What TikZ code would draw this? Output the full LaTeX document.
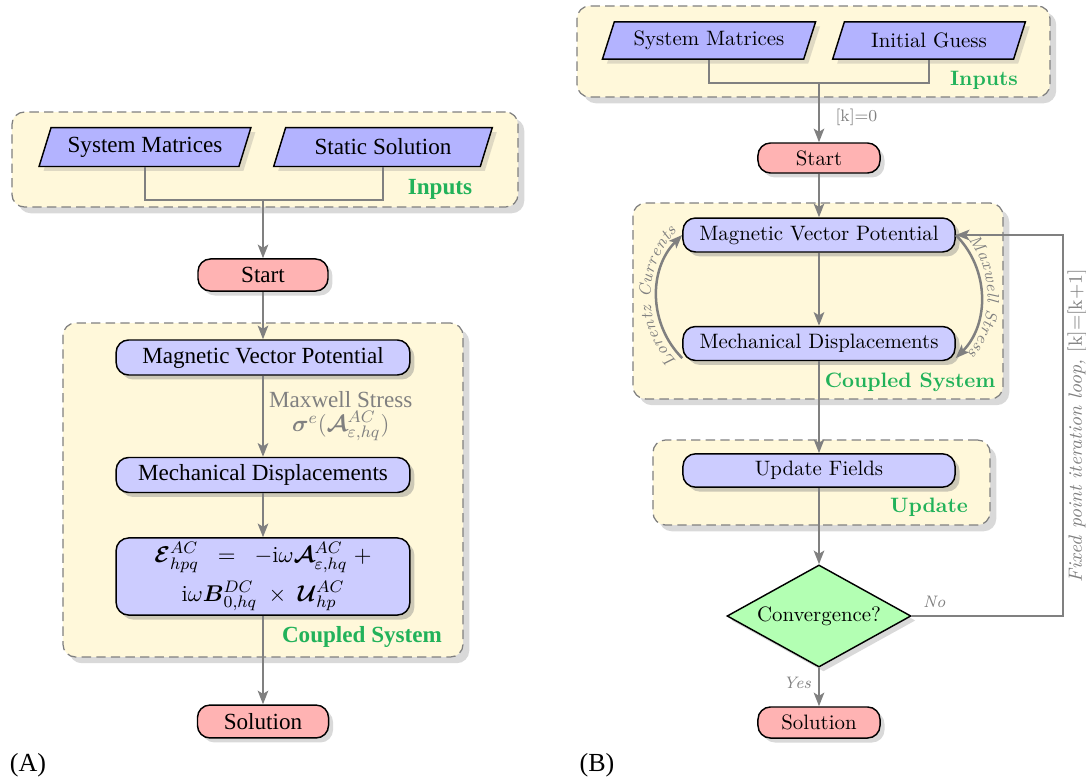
\documentclass[tikz,border=0pt]{standalone}
\usepackage{amsmath}
\usepackage{fontspec}
\newfontfamily\timesfont{Liberation Serif}
\usetikzlibrary{shapes.geometric,shadows,arrows.meta,decorations.text}
\definecolor{contfill}{RGB}{255,248,218}
\definecolor{procfill}{RGB}{204,204,255}
\definecolor{inpfill}{RGB}{179,179,255}
\definecolor{termfill}{RGB}{255,179,179}
\definecolor{decfill}{RGB}{179,255,179}
\definecolor{grpgreen}{RGB}{34,178,90}
\definecolor{linegray}{RGB}{128,128,128}
\begin{document}
\begin{tikzpicture}[x=0.48pt,y=-0.48pt,
  arr/.style={draw=linegray, line width=1.2pt, -{Stealth[length=6.5pt,width=5pt,inset=1.5pt]}},
  ln/.style={draw=linegray, line width=1.2pt},
  cont/.style={draw=linegray, dash pattern=on 4.5pt off 2.5pt, line width=0.6pt, fill=contfill, rounded corners=6pt, drop shadow={opacity=0.3, shadow xshift=3pt, shadow yshift=-3pt}},
  proc/.style={draw=black, line width=0.7pt, fill=procfill, rounded corners=6pt, drop shadow={opacity=0.4}, inner sep=2pt},
  term/.style={draw=black, line width=0.7pt, fill=termfill, rounded corners=6pt, drop shadow={opacity=0.3}, inner sep=2pt},
  inp/.style={trapezium, trapezium left angle=70, trapezium right angle=110, trapezium stretches=true, draw=black, line width=0.7pt, fill=inpfill, drop shadow={opacity=0.25}, inner sep=2pt},
  dec/.style={diamond, shape aspect=1.8, draw=black, line width=0.7pt, fill=decfill, drop shadow={opacity=0.3}, inner sep=0pt},
  grp/.style={text=grpgreen, font=\bfseries},
  fa/.style={font=\timesfont\fontsize{11.1}{13.3}\selectfont},
  fab/.style={font=\timesfont\fontsize{11.1}{13.3}\selectfont\bfseries, text=grpgreen},
  lab/.style={text=linegray, font=\footnotesize\itshape},
]
\useasboundingbox (0,0) rectangle (1086,780);

% ================= Panel A =================
\node[cont, minimum width=242.9pt, minimum height=45.6pt] (inA) at (265,159.5) {};
\node[cont, minimum width=192pt, minimum height=160.3pt] (csA) at (263,490) {};

\node[inp, fa, minimum width=102pt, minimum height=18.7pt] (smA) at (145,147) {System Matrices};
\node[inp, fa, minimum width=105.6pt, minimum height=18.7pt] (ssA) at (383,147) {Static Solution};
\node[fab] (inAlab) at (440,189) {Inputs};

\node[term, fa, minimum width=62.4pt, minimum height=15.4pt] (startA) at (263,275) {Start};

\node[proc, fa, minimum width=141pt, minimum height=16.8pt] (mvpA) at (263,357.5) {Magnetic Vector Potential};
\node[proc, fa, minimum width=141pt, minimum height=16.8pt] (mdA) at (263,475) {Mechanical Displacements};
\node[proc, fa, minimum width=141pt, minimum height=37pt, align=center] (eqA) at (263,576.5)
  {$\boldsymbol{\mathcal{E}}^{AC}_{hpq}\;\;=\;\;-\mathrm{i}\omega\boldsymbol{\mathcal{A}}^{AC}_{\varepsilon,hq}\;+$\\[3pt]
   $\mathrm{i}\omega\boldsymbol{B}^{DC}_{0,hq}\;\times\;\boldsymbol{\mathcal{U}}^{AC}_{hp}$};
\node[fab] (csAlab) at (362,637) {Coupled System};

\node[term, fa, minimum width=62.9pt, minimum height=15.8pt] (solA) at (263,721.5) {Solution};

\coordinate (jA) at (263,200);
\draw[ln] (smA.south) |- (jA) -| (ssA.south);
\draw[arr] (jA) -- (startA);
\draw[arr] (startA) -- (mvpA);
\draw[arr] (mvpA) -- node[midway, right, xshift=-1pt, align=center, text=linegray, fa]
  {Maxwell Stress\\[-2pt] $\boldsymbol{\sigma}^{e}(\boldsymbol{\mathcal{A}}^{AC}_{\varepsilon,hq})$} (mdA);
\draw[arr] (mdA) -- (eqA);
\draw[arr] (eqA) -- (solA);

\node[font=\timesfont\fontsize{12.5}{15}\selectfont] (labA) at (28,765) {(A)};

% ================= Panel B =================
\node[cont, minimum width=227pt, minimum height=43.7pt] (inB) at (813.5,51.5) {};
\node[cont, minimum width=177.6pt, minimum height=94pt] (csB) at (818,301) {};
\node[cont, minimum width=161.8pt, minimum height=40.8pt] (updB) at (821.5,482.5) {};

\node[inp, minimum width=102.7pt, minimum height=17.8pt] (smB) at (709,40.5) {System Matrices};
\node[inp, minimum width=93pt, minimum height=17.8pt] (igB) at (929,40.5) {Initial Guess};
\node[grp] (inBlab) at (984,80) {Inputs};

\node[term, minimum width=58.6pt, minimum height=14.4pt] (startB) at (819,158) {Start};

\node[proc, minimum width=130.6pt, minimum height=16.3pt] (mvpB) at (819,235) {Magnetic Vector Potential};
\node[proc, minimum width=130.6pt, minimum height=16.3pt] (mdB) at (819,343.5) {Mechanical Displacements};
\node[grp] (csBlab) at (910,382) {Coupled System};

\node[proc, minimum width=130.6pt, minimum height=16pt] (ufB) at (819,470.5) {Update Fields};
\node[grp] (updBlab) at (929,507) {Update};

\node[dec, minimum width=88.3pt, minimum height=49pt] (conv) at (819,616) {Convergence?};

\node[term, minimum width=58.6pt, minimum height=14.9pt] (solB) at (819,722.5) {Solution};

\coordinate (jB) at (819,83);
\coordinate (loopx) at (1063,0);
\draw[ln] (smB.south) |- (jB) -| (igB.south);
\draw[arr] (jB) -- node[pos=0.58, right, xshift=4pt, text=linegray, font=\footnotesize] {[k]=0} (startB);
\draw[arr] (startB) -- (mvpB);
\draw[arr] (mvpB) -- (mdB);
\draw[arr] ([yshift=-7pt]mdB.west) to[bend left=45] (mvpB.west);
\path[decorate, decoration={text along path, text={|\footnotesize\itshape|Lorentz Currents}, text align=center, raise=3pt, text color=linegray}]
  ([yshift=-7pt]mdB.west) to[bend left=45] (mvpB.west);
\draw[arr] (mvpB.east) to[bend left=45] ([yshift=-7pt]mdB.east);
\path[decorate, decoration={text along path, text={|\footnotesize\itshape|Maxwell Stress}, text align=center, raise=3pt, text color=linegray}]
  (mvpB.east) to[bend left=45] ([yshift=-7pt]mdB.east);
\draw[arr] (mdB) -- (ufB);
\draw[arr] (ufB) -- (conv);
\draw[arr] (conv.south) -- node[pos=0.38, left, lab] {Yes} (solB);
\draw[arr] (conv.east) -- node[pos=0.15, above, lab] {No} (conv.east -| loopx)
  -- node[midway, sloped, below, inner sep=1.5pt, text=linegray, font=\fontsize{9.2}{11}\selectfont\itshape] {Fixed point iteration loop, \upshape[k]=[k+1]} (mvpB.east -| loopx)
  -- (mvpB.east);

\node[font=\timesfont\fontsize{12.5}{15}\selectfont] (labB) at (597,765) {(B)};
\end{tikzpicture}
\end{document}
